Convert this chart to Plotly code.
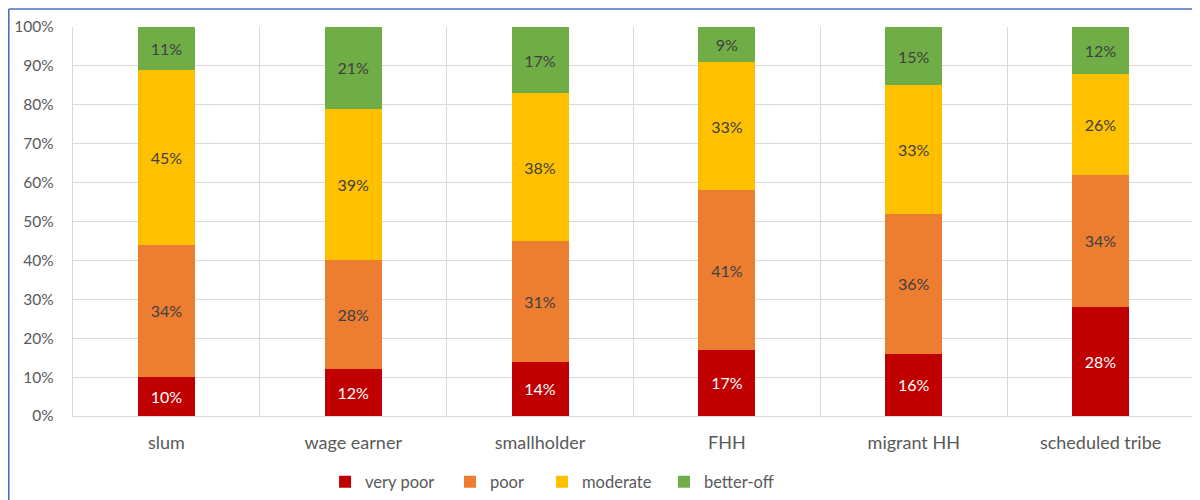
import plotly.graph_objects as go

categories = ["slum", "wage earner", "smallholder", "FHH", "migrant HH", "scheduled tribe"]
very_poor = [10, 12, 14, 17, 16, 28]
poor = [34, 28, 31, 41, 36, 34]
moderate = [45, 39, 38, 33, 33, 26]
better_off = [11, 21, 17, 9, 15, 12]
y_ticks = [0, 10, 20, 30, 40, 50, 60, 70, 80, 90, 100]

series = [
    ("very poor", very_poor, "#C00000", "white", "legend", 0.2660),
    ("poor", poor, "#ED7D31", "#404040", "legend2", 0.3708),
    ("moderate", moderate, "#FFC000", "#404040", "legend3", 0.4480),
    ("better-off", better_off, "#70AD47", "#404040", "legend4", 0.5503),
]

font_family = "Lato, Open Sans, sans-serif"

# page body adds an 8px offset; the figure is sized to fit the window
W, H = 1192, 492
ml, mr, mt, mb = 65, 6, 19, 84
pw, ph = W - ml - mr, H - mt - mb

fig = go.Figure()
legend_layouts = {}
for name, vals, color, tcolor, lg, lx in series:
    fig.add_trace(go.Bar(
        name=name, x=categories, y=vals, legend=lg,
        marker=dict(color=color, line=dict(width=0)),
        text=[f"{v}%" for v in vals], textposition="inside",
        insidetextanchor="middle", textangle=0,
        textfont=dict(color=tcolor, size=16, family=font_family),
        hoverinfo="skip",
    ))
    legend_layouts[lg] = dict(
        orientation="h", xref="container", yref="container",
        x=lx, xanchor="left", y=0.0366, yanchor="middle",
        font=dict(size=16.5, color="#595959"), itemwidth=30,
        bgcolor="rgba(0,0,0,0)",
    )

fig.update_layout(
    barmode="stack",
    bargap=0.695,
    width=W, height=H,
    margin=dict(l=ml, r=mr, t=mt, b=mb, autoexpand=False),
    paper_bgcolor="white", plot_bgcolor="white",
    font=dict(family=font_family, color="#595959"),
    showlegend=True,
    **legend_layouts,
)
fig.update_xaxes(
    type="category", tickson="boundaries", ticks="", showgrid=True,
    gridcolor="#D9D9D9", gridwidth=1.3, showline=True, linecolor="#D9D9D9",
    linewidth=1.3, tickfont=dict(size=18, color="#595959"),
    ticklabelstandoff=10, automargin=False,
)
fig.update_yaxes(
    range=[0, 100], tickvals=y_ticks, ticktext=[f"{v}%" for v in y_ticks],
    showgrid=True, gridcolor="#D9D9D9", gridwidth=1.3, zeroline=False,
    showline=True, linecolor="#D9D9D9", linewidth=1.3, mirror=True,
    tickfont=dict(size=15.5, color="#595959"), ticklabelstandoff=15,
    automargin=False,
)

# outer blue frame (left and top edges visible)
x_left = (0.8 - ml) / pw
y_top = 1 + (mt - 1) / ph
fig.add_shape(type="line", xref="paper", yref="paper", x0=x_left, x1=x_left,
              y0=y_top, y1=-(mb + 5) / ph, line=dict(color="#4472C4", width=1.6))
fig.add_shape(type="line", xref="paper", yref="paper", x0=x_left, x1=(W - ml + 5) / pw,
              y0=y_top, y1=y_top, line=dict(color="#4472C4", width=1.6))

fig.write_html("out.html")
